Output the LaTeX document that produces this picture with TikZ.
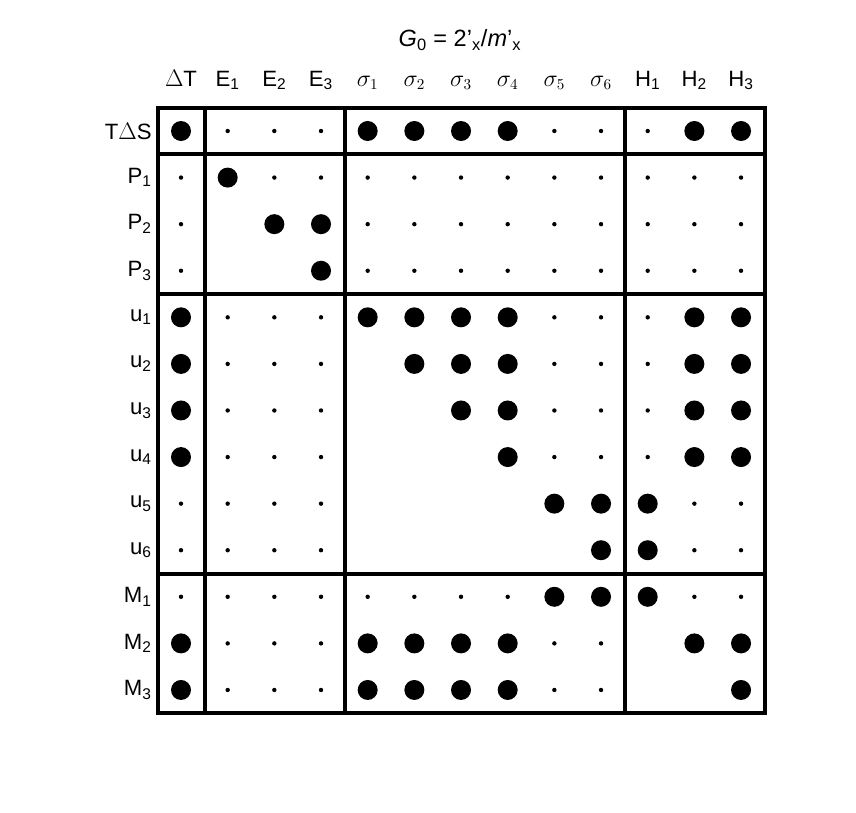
\documentclass[tikz,border=0pt]{standalone}
\usepackage{fontspec}
\setmainfont{Liberation Sans}
\newcommand{\sub}[1]{\textsubscript{#1}}
\tikzset{
  big/.style={fill=black,radius=10},
  small/.style={fill=black,radius=2.2},
  lbl/.style={font=\fontsize{16}{18}\selectfont,inner sep=0pt},
  frame/.style={line width=2.2pt}
}
\begin{document}
\begin{tikzpicture}[x=0.01in,y=-0.01in]
\useasboundingbox (0,0) rectangle (856,812);
% title
\node[lbl,font=\fontsize{17}{20}\selectfont] (title) at (460,40) {\textit{G}\sub{0} = 2'\sub{x}/\textit{m}'\sub{x}};
% column labels
\foreach \t [count=\i from 0] in {$\Delta$T,E\sub{1},E\sub{2},E\sub{3},$\sigma_1$,$\sigma_2$,$\sigma_3$,$\sigma_4$,$\sigma_5$,$\sigma_6$,H\sub{1},H\sub{2},H\sub{3}}
  \node[lbl,anchor=base] (c\i) at (181+46.67*\i,86) {\t};
% row labels
\foreach \t [count=\j from 0] in {T$\Delta$S,P\sub{1},P\sub{2},P\sub{3},u\sub{1},u\sub{2},u\sub{3},u\sub{4},u\sub{5},u\sub{6},M\sub{1},M\sub{2},M\sub{3}}
  \node[lbl,anchor=east] (r\j) at (152,131+46.58*\j) {\t};
% entries: b = big dot, s = small dot, o = none
\foreach \row [count=\j from 0] in {
  {b,s,s,s,b,b,b,b,s,s,s,b,b},
  {s,b,s,s,s,s,s,s,s,s,s,s,s},
  {s,o,b,b,s,s,s,s,s,s,s,s,s},
  {s,o,o,b,s,s,s,s,s,s,s,s,s},
  {b,s,s,s,b,b,b,b,s,s,s,b,b},
  {b,s,s,s,o,b,b,b,s,s,s,b,b},
  {b,s,s,s,o,o,b,b,s,s,s,b,b},
  {b,s,s,s,o,o,o,b,s,s,s,b,b},
  {s,s,s,s,o,o,o,o,b,b,b,s,s},
  {s,s,s,s,o,o,o,o,o,b,b,s,s},
  {s,s,s,s,s,s,s,s,b,b,b,s,s},
  {b,s,s,s,b,b,b,b,s,s,o,b,b},
  {b,s,s,s,b,b,b,b,s,s,o,o,b}}
  \foreach \e [count=\i from 0] in \row {
    \if\e b \fill[big] (181+46.67*\i,131+46.58*\j) circle;\fi
    \if\e s \fill[small] (181+46.67*\i,131+46.58*\j) circle;\fi
  };
% frame and separators
\draw[frame] (158,108) rectangle (765,713);
\foreach \x in {205,345,625} \draw[frame] (\x,108) -- (\x,713);
\foreach \y in {154,294,574} \draw[frame] (158,\y) -- (765,\y);
\end{tikzpicture}
\end{document}
